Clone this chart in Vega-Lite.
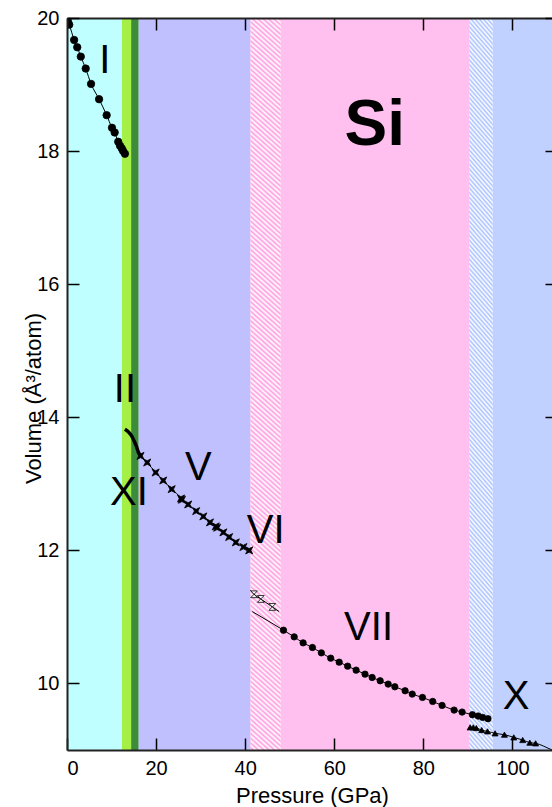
{
  "$schema": "https://vega.github.io/schema/vega-lite/v6.json",
  "width": 490,
  "height": 732,
  "autosize": {"type": "none"},
  "padding": {"left": 67, "top": 18, "right": 0, "bottom": 57},
  "background": "white",
  "config": {"view": {"stroke": null}, "font": "Liberation Sans"},
  "datasets": {
    "bands": [
      {"c": "I", "p0": 0, "p1": 12.35},
      {"c": "IIa", "p0": 12.35, "p1": 14.4},
      {"c": "IIb", "p0": 14.4, "p1": 16.1},
      {"c": "V", "p0": 16.1, "p1": 41.2},
      {"c": "VI", "p0": 41.2, "p1": 48.0},
      {"c": "VII", "p0": 48.0, "p1": 90.3},
      {"c": "VIIX", "p0": 90.3, "p1": 95.6},
      {"c": "X", "p0": 95.6, "p1": 110}
    ],
    "obs": [
      {"s": "I", "k": "pt", "P": 0.0, "V": 20.0},
      {"s": "I", "k": "pt", "P": 0.2, "V": 19.95},
      {"s": "I", "k": "pt", "P": 0.5, "V": 19.9},
      {"s": "I", "k": "pt", "P": 1.6, "V": 19.67},
      {"s": "I", "k": "pt", "P": 2.3, "V": 19.56},
      {"s": "I", "k": "pt", "P": 3.1, "V": 19.42},
      {"s": "I", "k": "pt", "P": 4.2, "V": 19.24},
      {"s": "I", "k": "pt", "P": 5.4, "V": 19.01},
      {"s": "I", "k": "pt", "P": 7.2, "V": 18.78},
      {"s": "I", "k": "pt", "P": 8.9, "V": 18.54},
      {"s": "I", "k": "pt", "P": 10.1, "V": 18.35},
      {"s": "I", "k": "pt", "P": 10.7, "V": 18.28},
      {"s": "I", "k": "pt", "P": 11.5, "V": 18.14},
      {"s": "I", "k": "pt", "P": 11.9, "V": 18.08},
      {"s": "I", "k": "pt", "P": 12.3, "V": 18.04},
      {"s": "I", "k": "pt", "P": 12.6, "V": 18.0},
      {"s": "I", "k": "pt", "P": 13.0, "V": 17.96},
      {"s": "II", "k": "ln", "P": 13.0, "V": 13.82},
      {"s": "II", "k": "ln", "P": 13.8, "V": 13.78},
      {"s": "II", "k": "ln", "P": 14.5, "V": 13.72},
      {"s": "II", "k": "ln", "P": 15.1, "V": 13.64},
      {"s": "II", "k": "ln", "P": 15.6, "V": 13.56},
      {"s": "II", "k": "ln", "P": 16.0, "V": 13.48},
      {"s": "II", "k": "ln", "P": 16.5, "V": 13.42},
      {"s": "V", "k": "pt", "P": 16.5, "V": 13.42},
      {"s": "V", "k": "pt", "P": 18.0, "V": 13.32},
      {"s": "V", "k": "pt", "P": 19.9, "V": 13.17},
      {"s": "V", "k": "pt", "P": 21.6, "V": 13.05},
      {"s": "V", "k": "pt", "P": 23.5, "V": 12.92},
      {"s": "V", "k": "pt", "P": 25.6, "V": 12.78},
      {"s": "V", "k": "pt", "P": 25.8, "V": 12.76},
      {"s": "V", "k": "pt", "P": 27.2, "V": 12.69},
      {"s": "V", "k": "pt", "P": 29.0, "V": 12.59},
      {"s": "V", "k": "pt", "P": 30.6, "V": 12.51},
      {"s": "V", "k": "pt", "P": 32.1, "V": 12.42},
      {"s": "V", "k": "pt", "P": 33.4, "V": 12.36},
      {"s": "V", "k": "pt", "P": 33.7, "V": 12.34},
      {"s": "V", "k": "pt", "P": 35.1, "V": 12.27},
      {"s": "V", "k": "pt", "P": 36.4, "V": 12.2},
      {"s": "V", "k": "pt", "P": 37.9, "V": 12.12},
      {"s": "V", "k": "pt", "P": 39.6, "V": 12.05},
      {"s": "V", "k": "pt", "P": 40.9, "V": 12.0},
      {"s": "VI", "k": "ln", "P": 41.2, "V": 11.4},
      {"s": "VI", "k": "pt", "P": 42.0, "V": 11.34},
      {"s": "VI", "k": "pt", "P": 43.5, "V": 11.27},
      {"s": "VI", "k": "pt", "P": 46.1, "V": 11.15},
      {"s": "VI", "k": "ln", "P": 47.6, "V": 11.08},
      {"s": "VII", "k": "ln", "P": 41.6, "V": 11.08},
      {"s": "VII", "k": "pt", "P": 48.6, "V": 10.8},
      {"s": "VII", "k": "pt", "P": 51.0, "V": 10.7},
      {"s": "VII", "k": "pt", "P": 53.0, "V": 10.61},
      {"s": "VII", "k": "pt", "P": 55.1, "V": 10.54},
      {"s": "VII", "k": "pt", "P": 57.1, "V": 10.46},
      {"s": "VII", "k": "pt", "P": 59.2, "V": 10.38},
      {"s": "VII", "k": "pt", "P": 61.1, "V": 10.32},
      {"s": "VII", "k": "pt", "P": 63.0, "V": 10.26},
      {"s": "VII", "k": "pt", "P": 64.9, "V": 10.2},
      {"s": "VII", "k": "pt", "P": 66.9, "V": 10.14},
      {"s": "VII", "k": "pt", "P": 68.5, "V": 10.09},
      {"s": "VII", "k": "pt", "P": 70.3, "V": 10.04},
      {"s": "VII", "k": "pt", "P": 72.1, "V": 9.99},
      {"s": "VII", "k": "pt", "P": 73.6, "V": 9.95},
      {"s": "VII", "k": "pt", "P": 75.9, "V": 9.89},
      {"s": "VII", "k": "pt", "P": 77.5, "V": 9.84},
      {"s": "VII", "k": "pt", "P": 79.8, "V": 9.79},
      {"s": "VII", "k": "pt", "P": 82.1, "V": 9.73},
      {"s": "VII", "k": "pt", "P": 84.2, "V": 9.67},
      {"s": "VII", "k": "pt", "P": 86.9, "V": 9.6},
      {"s": "VII", "k": "pt", "P": 88.7, "V": 9.57},
      {"s": "VII", "k": "pt", "P": 91.0, "V": 9.53},
      {"s": "VII", "k": "pt", "P": 92.3, "V": 9.51},
      {"s": "VII", "k": "pt", "P": 93.3, "V": 9.49},
      {"s": "VII", "k": "pt", "P": 94.5, "V": 9.47},
      {"s": "X", "k": "pt", "P": 90.5, "V": 9.34},
      {"s": "X", "k": "pt", "P": 91.2, "V": 9.34},
      {"s": "X", "k": "pt", "P": 91.9, "V": 9.33},
      {"s": "X", "k": "pt", "P": 93.1, "V": 9.3},
      {"s": "X", "k": "pt", "P": 94.4, "V": 9.28},
      {"s": "X", "k": "pt", "P": 96.1, "V": 9.25},
      {"s": "X", "k": "pt", "P": 98.2, "V": 9.23},
      {"s": "X", "k": "pt", "P": 100.3, "V": 9.19},
      {"s": "X", "k": "pt", "P": 102.3, "V": 9.15},
      {"s": "X", "k": "pt", "P": 103.9, "V": 9.11},
      {"s": "X", "k": "pt", "P": 105.2, "V": 9.1},
      {"s": "X", "k": "ln", "P": 108.9, "V": 9.0},
      {"s": "X", "k": "ln", "P": 110.0, "V": 8.97}
    ],
    "labels": [
      {"t": "I", "P": 8.5, "V": 19.17},
      {"t": "II", "P": 13.0, "V": 14.23},
      {"t": "XI", "P": 13.9, "V": 12.68},
      {"t": "V", "P": 29.5, "V": 13.06},
      {"t": "VI", "P": 44.6, "V": 12.11},
      {"t": "VII", "P": 67.7, "V": 10.66},
      {"t": "X", "P": 100.8, "V": 9.62}
    ],
    "title": [
      {"t": "Si", "P": 69.1, "V": 18.09}
    ]
  },
  "layer": [
    {
      "data": {"name": "bands"},
      "mark": {"type": "rect"},
      "encoding": {
        "x": {
          "field": "p0", "type": "quantitative",
          "scale": {"domain": [0, 110], "nice": false, "zero": false},
          "axis": {
            "orient": "bottom", "values": [0, 20, 40, 60, 80, 100], "grid": false, "zindex": 1,
            "tickSize": -12, "tickColor": "black", "tickWidth": 1.5,
            "domainColor": "#222222", "domainWidth": 2,
            "labelFont": "Liberation Sans", "labelFontSize": 20, "labelColor": "black", "labelPadding": 20,
            "title": "Pressure (GPa)", "titleFont": "Liberation Sans", "titleFontSize": 22,
            "titleFontWeight": "normal", "titleColor": "black",
            "titleBaseline": "alphabetic", "titleY": 52
          }
        },
        "x2": {"field": "p1"},
        "y": {
          "datum": 9, "type": "quantitative",
          "scale": {"domain": [9, 20], "nice": false, "zero": false},
          "axis": {
            "orient": "left", "values": [10, 12, 14, 16, 18, 20], "grid": false, "zindex": 1,
            "tickSize": -12, "tickColor": "black", "tickWidth": 1.5,
            "domainColor": "#222222", "domainWidth": 2,
            "labelFont": "Liberation Sans", "labelFontSize": 20, "labelColor": "black", "labelPadding": 20,
            "title": "Volume (Å³/atom)", "titleFont": "Liberation Sans", "titleFontSize": 22,
            "titleFontWeight": "normal", "titleColor": "black",
            "titleBaseline": "alphabetic", "titleX": -27, "titleY": 380
          }
        },
        "y2": {"datum": 20},
        "color": {
          "field": "c", "type": "nominal",
          "scale": {
            "domain": ["I", "IIa", "IIb", "V", "VI", "VII", "VIIX", "X"],
            "range": ["#bfffff", "#a4f046", "#3c8c3c", "#c0c0ff", "#ff9de0", "#ffc0f0", "#a9c1ff", "#c0d0ff"]
          },
          "legend": null
        }
      }
    },
    {
      "data": {"name": "bands"},
      "transform": [{"filter": "datum.c == 'VI' || datum.c == 'VIIX'"}],
      "mark": {
        "type": "rect",
        "fill": {
          "gradient": "linear", "x1": 0, "y1": 1, "x2": 0.0382, "y2": -0.0355,
          "stops": [
            {"offset": 0, "color": "#ffffff"}, {"offset": 0.003125, "color": "rgba(255,255,255,0)"}, {"offset": 0.00625, "color": "#ffffff"}, {"offset": 0.009375, "color": "rgba(255,255,255,0)"}, {"offset": 0.0125, "color": "#ffffff"}, {"offset": 0.015625, "color": "rgba(255,255,255,0)"}, {"offset": 0.01875, "color": "#ffffff"}, {"offset": 0.021875, "color": "rgba(255,255,255,0)"},
            {"offset": 0.025, "color": "#ffffff"}, {"offset": 0.028125, "color": "rgba(255,255,255,0)"}, {"offset": 0.03125, "color": "#ffffff"}, {"offset": 0.034375, "color": "rgba(255,255,255,0)"}, {"offset": 0.0375, "color": "#ffffff"}, {"offset": 0.040625, "color": "rgba(255,255,255,0)"}, {"offset": 0.04375, "color": "#ffffff"}, {"offset": 0.046875, "color": "rgba(255,255,255,0)"},
            {"offset": 0.05, "color": "#ffffff"}, {"offset": 0.053125, "color": "rgba(255,255,255,0)"}, {"offset": 0.05625, "color": "#ffffff"}, {"offset": 0.059375, "color": "rgba(255,255,255,0)"}, {"offset": 0.0625, "color": "#ffffff"}, {"offset": 0.065625, "color": "rgba(255,255,255,0)"}, {"offset": 0.06875, "color": "#ffffff"}, {"offset": 0.071875, "color": "rgba(255,255,255,0)"},
            {"offset": 0.075, "color": "#ffffff"}, {"offset": 0.078125, "color": "rgba(255,255,255,0)"}, {"offset": 0.08125, "color": "#ffffff"}, {"offset": 0.084375, "color": "rgba(255,255,255,0)"}, {"offset": 0.0875, "color": "#ffffff"}, {"offset": 0.090625, "color": "rgba(255,255,255,0)"}, {"offset": 0.09375, "color": "#ffffff"}, {"offset": 0.096875, "color": "rgba(255,255,255,0)"},
            {"offset": 0.1, "color": "#ffffff"}, {"offset": 0.103125, "color": "rgba(255,255,255,0)"}, {"offset": 0.10625, "color": "#ffffff"}, {"offset": 0.109375, "color": "rgba(255,255,255,0)"}, {"offset": 0.1125, "color": "#ffffff"}, {"offset": 0.115625, "color": "rgba(255,255,255,0)"}, {"offset": 0.11875, "color": "#ffffff"}, {"offset": 0.121875, "color": "rgba(255,255,255,0)"},
            {"offset": 0.125, "color": "#ffffff"}, {"offset": 0.128125, "color": "rgba(255,255,255,0)"}, {"offset": 0.13125, "color": "#ffffff"}, {"offset": 0.134375, "color": "rgba(255,255,255,0)"}, {"offset": 0.1375, "color": "#ffffff"}, {"offset": 0.140625, "color": "rgba(255,255,255,0)"}, {"offset": 0.14375, "color": "#ffffff"}, {"offset": 0.146875, "color": "rgba(255,255,255,0)"},
            {"offset": 0.15, "color": "#ffffff"}, {"offset": 0.153125, "color": "rgba(255,255,255,0)"}, {"offset": 0.15625, "color": "#ffffff"}, {"offset": 0.159375, "color": "rgba(255,255,255,0)"}, {"offset": 0.1625, "color": "#ffffff"}, {"offset": 0.165625, "color": "rgba(255,255,255,0)"}, {"offset": 0.16875, "color": "#ffffff"}, {"offset": 0.171875, "color": "rgba(255,255,255,0)"},
            {"offset": 0.175, "color": "#ffffff"}, {"offset": 0.178125, "color": "rgba(255,255,255,0)"}, {"offset": 0.18125, "color": "#ffffff"}, {"offset": 0.184375, "color": "rgba(255,255,255,0)"}, {"offset": 0.1875, "color": "#ffffff"}, {"offset": 0.190625, "color": "rgba(255,255,255,0)"}, {"offset": 0.19375, "color": "#ffffff"}, {"offset": 0.196875, "color": "rgba(255,255,255,0)"},
            {"offset": 0.2, "color": "#ffffff"}, {"offset": 0.203125, "color": "rgba(255,255,255,0)"}, {"offset": 0.20625, "color": "#ffffff"}, {"offset": 0.209375, "color": "rgba(255,255,255,0)"}, {"offset": 0.2125, "color": "#ffffff"}, {"offset": 0.215625, "color": "rgba(255,255,255,0)"}, {"offset": 0.21875, "color": "#ffffff"}, {"offset": 0.221875, "color": "rgba(255,255,255,0)"},
            {"offset": 0.225, "color": "#ffffff"}, {"offset": 0.228125, "color": "rgba(255,255,255,0)"}, {"offset": 0.23125, "color": "#ffffff"}, {"offset": 0.234375, "color": "rgba(255,255,255,0)"}, {"offset": 0.2375, "color": "#ffffff"}, {"offset": 0.240625, "color": "rgba(255,255,255,0)"}, {"offset": 0.24375, "color": "#ffffff"}, {"offset": 0.246875, "color": "rgba(255,255,255,0)"},
            {"offset": 0.25, "color": "#ffffff"}, {"offset": 0.253125, "color": "rgba(255,255,255,0)"}, {"offset": 0.25625, "color": "#ffffff"}, {"offset": 0.259375, "color": "rgba(255,255,255,0)"}, {"offset": 0.2625, "color": "#ffffff"}, {"offset": 0.265625, "color": "rgba(255,255,255,0)"}, {"offset": 0.26875, "color": "#ffffff"}, {"offset": 0.271875, "color": "rgba(255,255,255,0)"},
            {"offset": 0.275, "color": "#ffffff"}, {"offset": 0.278125, "color": "rgba(255,255,255,0)"}, {"offset": 0.28125, "color": "#ffffff"}, {"offset": 0.284375, "color": "rgba(255,255,255,0)"}, {"offset": 0.2875, "color": "#ffffff"}, {"offset": 0.290625, "color": "rgba(255,255,255,0)"}, {"offset": 0.29375, "color": "#ffffff"}, {"offset": 0.296875, "color": "rgba(255,255,255,0)"},
            {"offset": 0.3, "color": "#ffffff"}, {"offset": 0.303125, "color": "rgba(255,255,255,0)"}, {"offset": 0.30625, "color": "#ffffff"}, {"offset": 0.309375, "color": "rgba(255,255,255,0)"}, {"offset": 0.3125, "color": "#ffffff"}, {"offset": 0.315625, "color": "rgba(255,255,255,0)"}, {"offset": 0.31875, "color": "#ffffff"}, {"offset": 0.321875, "color": "rgba(255,255,255,0)"},
            {"offset": 0.325, "color": "#ffffff"}, {"offset": 0.328125, "color": "rgba(255,255,255,0)"}, {"offset": 0.33125, "color": "#ffffff"}, {"offset": 0.334375, "color": "rgba(255,255,255,0)"}, {"offset": 0.3375, "color": "#ffffff"}, {"offset": 0.340625, "color": "rgba(255,255,255,0)"}, {"offset": 0.34375, "color": "#ffffff"}, {"offset": 0.346875, "color": "rgba(255,255,255,0)"},
            {"offset": 0.35, "color": "#ffffff"}, {"offset": 0.353125, "color": "rgba(255,255,255,0)"}, {"offset": 0.35625, "color": "#ffffff"}, {"offset": 0.359375, "color": "rgba(255,255,255,0)"}, {"offset": 0.3625, "color": "#ffffff"}, {"offset": 0.365625, "color": "rgba(255,255,255,0)"}, {"offset": 0.36875, "color": "#ffffff"}, {"offset": 0.371875, "color": "rgba(255,255,255,0)"},
            {"offset": 0.375, "color": "#ffffff"}, {"offset": 0.378125, "color": "rgba(255,255,255,0)"}, {"offset": 0.38125, "color": "#ffffff"}, {"offset": 0.384375, "color": "rgba(255,255,255,0)"}, {"offset": 0.3875, "color": "#ffffff"}, {"offset": 0.390625, "color": "rgba(255,255,255,0)"}, {"offset": 0.39375, "color": "#ffffff"}, {"offset": 0.396875, "color": "rgba(255,255,255,0)"},
            {"offset": 0.4, "color": "#ffffff"}, {"offset": 0.403125, "color": "rgba(255,255,255,0)"}, {"offset": 0.40625, "color": "#ffffff"}, {"offset": 0.409375, "color": "rgba(255,255,255,0)"}, {"offset": 0.4125, "color": "#ffffff"}, {"offset": 0.415625, "color": "rgba(255,255,255,0)"}, {"offset": 0.41875, "color": "#ffffff"}, {"offset": 0.421875, "color": "rgba(255,255,255,0)"},
            {"offset": 0.425, "color": "#ffffff"}, {"offset": 0.428125, "color": "rgba(255,255,255,0)"}, {"offset": 0.43125, "color": "#ffffff"}, {"offset": 0.434375, "color": "rgba(255,255,255,0)"}, {"offset": 0.4375, "color": "#ffffff"}, {"offset": 0.440625, "color": "rgba(255,255,255,0)"}, {"offset": 0.44375, "color": "#ffffff"}, {"offset": 0.446875, "color": "rgba(255,255,255,0)"},
            {"offset": 0.45, "color": "#ffffff"}, {"offset": 0.453125, "color": "rgba(255,255,255,0)"}, {"offset": 0.45625, "color": "#ffffff"}, {"offset": 0.459375, "color": "rgba(255,255,255,0)"}, {"offset": 0.4625, "color": "#ffffff"}, {"offset": 0.465625, "color": "rgba(255,255,255,0)"}, {"offset": 0.46875, "color": "#ffffff"}, {"offset": 0.471875, "color": "rgba(255,255,255,0)"},
            {"offset": 0.475, "color": "#ffffff"}, {"offset": 0.478125, "color": "rgba(255,255,255,0)"}, {"offset": 0.48125, "color": "#ffffff"}, {"offset": 0.484375, "color": "rgba(255,255,255,0)"}, {"offset": 0.4875, "color": "#ffffff"}, {"offset": 0.490625, "color": "rgba(255,255,255,0)"}, {"offset": 0.49375, "color": "#ffffff"}, {"offset": 0.496875, "color": "rgba(255,255,255,0)"},
            {"offset": 0.5, "color": "#ffffff"}, {"offset": 0.503125, "color": "rgba(255,255,255,0)"}, {"offset": 0.50625, "color": "#ffffff"}, {"offset": 0.509375, "color": "rgba(255,255,255,0)"}, {"offset": 0.5125, "color": "#ffffff"}, {"offset": 0.515625, "color": "rgba(255,255,255,0)"}, {"offset": 0.51875, "color": "#ffffff"}, {"offset": 0.521875, "color": "rgba(255,255,255,0)"},
            {"offset": 0.525, "color": "#ffffff"}, {"offset": 0.528125, "color": "rgba(255,255,255,0)"}, {"offset": 0.53125, "color": "#ffffff"}, {"offset": 0.534375, "color": "rgba(255,255,255,0)"}, {"offset": 0.5375, "color": "#ffffff"}, {"offset": 0.540625, "color": "rgba(255,255,255,0)"}, {"offset": 0.54375, "color": "#ffffff"}, {"offset": 0.546875, "color": "rgba(255,255,255,0)"},
            {"offset": 0.55, "color": "#ffffff"}, {"offset": 0.553125, "color": "rgba(255,255,255,0)"}, {"offset": 0.55625, "color": "#ffffff"}, {"offset": 0.559375, "color": "rgba(255,255,255,0)"}, {"offset": 0.5625, "color": "#ffffff"}, {"offset": 0.565625, "color": "rgba(255,255,255,0)"}, {"offset": 0.56875, "color": "#ffffff"}, {"offset": 0.571875, "color": "rgba(255,255,255,0)"},
            {"offset": 0.575, "color": "#ffffff"}, {"offset": 0.578125, "color": "rgba(255,255,255,0)"}, {"offset": 0.58125, "color": "#ffffff"}, {"offset": 0.584375, "color": "rgba(255,255,255,0)"}, {"offset": 0.5875, "color": "#ffffff"}, {"offset": 0.590625, "color": "rgba(255,255,255,0)"}, {"offset": 0.59375, "color": "#ffffff"}, {"offset": 0.596875, "color": "rgba(255,255,255,0)"},
            {"offset": 0.6, "color": "#ffffff"}, {"offset": 0.603125, "color": "rgba(255,255,255,0)"}, {"offset": 0.60625, "color": "#ffffff"}, {"offset": 0.609375, "color": "rgba(255,255,255,0)"}, {"offset": 0.6125, "color": "#ffffff"}, {"offset": 0.615625, "color": "rgba(255,255,255,0)"}, {"offset": 0.61875, "color": "#ffffff"}, {"offset": 0.621875, "color": "rgba(255,255,255,0)"},
            {"offset": 0.625, "color": "#ffffff"}, {"offset": 0.628125, "color": "rgba(255,255,255,0)"}, {"offset": 0.63125, "color": "#ffffff"}, {"offset": 0.634375, "color": "rgba(255,255,255,0)"}, {"offset": 0.6375, "color": "#ffffff"}, {"offset": 0.640625, "color": "rgba(255,255,255,0)"}, {"offset": 0.64375, "color": "#ffffff"}, {"offset": 0.646875, "color": "rgba(255,255,255,0)"},
            {"offset": 0.65, "color": "#ffffff"}, {"offset": 0.653125, "color": "rgba(255,255,255,0)"}, {"offset": 0.65625, "color": "#ffffff"}, {"offset": 0.659375, "color": "rgba(255,255,255,0)"}, {"offset": 0.6625, "color": "#ffffff"}, {"offset": 0.665625, "color": "rgba(255,255,255,0)"}, {"offset": 0.66875, "color": "#ffffff"}, {"offset": 0.671875, "color": "rgba(255,255,255,0)"},
            {"offset": 0.675, "color": "#ffffff"}, {"offset": 0.678125, "color": "rgba(255,255,255,0)"}, {"offset": 0.68125, "color": "#ffffff"}, {"offset": 0.684375, "color": "rgba(255,255,255,0)"}, {"offset": 0.6875, "color": "#ffffff"}, {"offset": 0.690625, "color": "rgba(255,255,255,0)"}, {"offset": 0.69375, "color": "#ffffff"}, {"offset": 0.696875, "color": "rgba(255,255,255,0)"},
            {"offset": 0.7, "color": "#ffffff"}, {"offset": 0.703125, "color": "rgba(255,255,255,0)"}, {"offset": 0.70625, "color": "#ffffff"}, {"offset": 0.709375, "color": "rgba(255,255,255,0)"}, {"offset": 0.7125, "color": "#ffffff"}, {"offset": 0.715625, "color": "rgba(255,255,255,0)"}, {"offset": 0.71875, "color": "#ffffff"}, {"offset": 0.721875, "color": "rgba(255,255,255,0)"},
            {"offset": 0.725, "color": "#ffffff"}, {"offset": 0.728125, "color": "rgba(255,255,255,0)"}, {"offset": 0.73125, "color": "#ffffff"}, {"offset": 0.734375, "color": "rgba(255,255,255,0)"}, {"offset": 0.7375, "color": "#ffffff"}, {"offset": 0.740625, "color": "rgba(255,255,255,0)"}, {"offset": 0.74375, "color": "#ffffff"}, {"offset": 0.746875, "color": "rgba(255,255,255,0)"},
            {"offset": 0.75, "color": "#ffffff"}, {"offset": 0.753125, "color": "rgba(255,255,255,0)"}, {"offset": 0.75625, "color": "#ffffff"}, {"offset": 0.759375, "color": "rgba(255,255,255,0)"}, {"offset": 0.7625, "color": "#ffffff"}, {"offset": 0.765625, "color": "rgba(255,255,255,0)"}, {"offset": 0.76875, "color": "#ffffff"}, {"offset": 0.771875, "color": "rgba(255,255,255,0)"},
            {"offset": 0.775, "color": "#ffffff"}, {"offset": 0.778125, "color": "rgba(255,255,255,0)"}, {"offset": 0.78125, "color": "#ffffff"}, {"offset": 0.784375, "color": "rgba(255,255,255,0)"}, {"offset": 0.7875, "color": "#ffffff"}, {"offset": 0.790625, "color": "rgba(255,255,255,0)"}, {"offset": 0.79375, "color": "#ffffff"}, {"offset": 0.796875, "color": "rgba(255,255,255,0)"},
            {"offset": 0.8, "color": "#ffffff"}, {"offset": 0.803125, "color": "rgba(255,255,255,0)"}, {"offset": 0.80625, "color": "#ffffff"}, {"offset": 0.809375, "color": "rgba(255,255,255,0)"}, {"offset": 0.8125, "color": "#ffffff"}, {"offset": 0.815625, "color": "rgba(255,255,255,0)"}, {"offset": 0.81875, "color": "#ffffff"}, {"offset": 0.821875, "color": "rgba(255,255,255,0)"},
            {"offset": 0.825, "color": "#ffffff"}, {"offset": 0.828125, "color": "rgba(255,255,255,0)"}, {"offset": 0.83125, "color": "#ffffff"}, {"offset": 0.834375, "color": "rgba(255,255,255,0)"}, {"offset": 0.8375, "color": "#ffffff"}, {"offset": 0.840625, "color": "rgba(255,255,255,0)"}, {"offset": 0.84375, "color": "#ffffff"}, {"offset": 0.846875, "color": "rgba(255,255,255,0)"},
            {"offset": 0.85, "color": "#ffffff"}, {"offset": 0.853125, "color": "rgba(255,255,255,0)"}, {"offset": 0.85625, "color": "#ffffff"}, {"offset": 0.859375, "color": "rgba(255,255,255,0)"}, {"offset": 0.8625, "color": "#ffffff"}, {"offset": 0.865625, "color": "rgba(255,255,255,0)"}, {"offset": 0.86875, "color": "#ffffff"}, {"offset": 0.871875, "color": "rgba(255,255,255,0)"},
            {"offset": 0.875, "color": "#ffffff"}, {"offset": 0.878125, "color": "rgba(255,255,255,0)"}, {"offset": 0.88125, "color": "#ffffff"}, {"offset": 0.884375, "color": "rgba(255,255,255,0)"}, {"offset": 0.8875, "color": "#ffffff"}, {"offset": 0.890625, "color": "rgba(255,255,255,0)"}, {"offset": 0.89375, "color": "#ffffff"}, {"offset": 0.896875, "color": "rgba(255,255,255,0)"},
            {"offset": 0.9, "color": "#ffffff"}, {"offset": 0.903125, "color": "rgba(255,255,255,0)"}, {"offset": 0.90625, "color": "#ffffff"}, {"offset": 0.909375, "color": "rgba(255,255,255,0)"}, {"offset": 0.9125, "color": "#ffffff"}, {"offset": 0.915625, "color": "rgba(255,255,255,0)"}, {"offset": 0.91875, "color": "#ffffff"}, {"offset": 0.921875, "color": "rgba(255,255,255,0)"},
            {"offset": 0.925, "color": "#ffffff"}, {"offset": 0.928125, "color": "rgba(255,255,255,0)"}, {"offset": 0.93125, "color": "#ffffff"}, {"offset": 0.934375, "color": "rgba(255,255,255,0)"}, {"offset": 0.9375, "color": "#ffffff"}, {"offset": 0.940625, "color": "rgba(255,255,255,0)"}, {"offset": 0.94375, "color": "#ffffff"}, {"offset": 0.946875, "color": "rgba(255,255,255,0)"},
            {"offset": 0.95, "color": "#ffffff"}, {"offset": 0.953125, "color": "rgba(255,255,255,0)"}, {"offset": 0.95625, "color": "#ffffff"}, {"offset": 0.959375, "color": "rgba(255,255,255,0)"}, {"offset": 0.9625, "color": "#ffffff"}, {"offset": 0.965625, "color": "rgba(255,255,255,0)"}, {"offset": 0.96875, "color": "#ffffff"}, {"offset": 0.971875, "color": "rgba(255,255,255,0)"},
            {"offset": 0.975, "color": "#ffffff"}, {"offset": 0.978125, "color": "rgba(255,255,255,0)"}, {"offset": 0.98125, "color": "#ffffff"}, {"offset": 0.984375, "color": "rgba(255,255,255,0)"}, {"offset": 0.9875, "color": "#ffffff"}, {"offset": 0.990625, "color": "rgba(255,255,255,0)"}, {"offset": 0.99375, "color": "#ffffff"}, {"offset": 0.996875, "color": "rgba(255,255,255,0)"},
            {"offset": 1, "color": "#ffffff"}
          ]
        }
      },
      "encoding": {
        "x": {"field": "p0", "type": "quantitative", "axis": null},
        "x2": {"field": "p1"},
        "y": {"datum": 9, "type": "quantitative", "axis": null},
        "y2": {"datum": 20}
      }
    },
    {
      "data": {"name": "obs"},
      "transform": [{"filter": "datum.s != 'II'"}],
      "mark": {"type": "line", "color": "black", "strokeWidth": 1, "interpolate": "monotone", "clip": true},
      "encoding": {
        "x": {
          "field": "P", "type": "quantitative",
          "axis": {
            "orient": "top", "values": [20, 40, 60, 80, 100], "grid": false, "labels": false, "title": null, "zindex": 1,
            "tickSize": -12, "tickColor": "black", "tickWidth": 1.5,
            "domainColor": "#222222", "domainWidth": 2
          }
        },
        "y": {
          "field": "V", "type": "quantitative",
          "axis": {
            "orient": "right", "values": [10, 12, 14, 16, 18, 20], "grid": false, "labels": false, "title": null, "zindex": 1,
            "tickSize": -12, "tickColor": "black", "tickWidth": 1.5,
            "domainColor": "#222222", "domainWidth": 2
          }
        },
        "detail": {"field": "s", "type": "nominal"},
        "order": {"field": "P", "type": "quantitative"}
      }
    },
    {
      "data": {"name": "obs"},
      "transform": [{"filter": "datum.s == 'II'"}],
      "mark": {"type": "line", "color": "black", "strokeWidth": 3.5, "interpolate": "monotone", "clip": true},
      "encoding": {
        "x": {"field": "P", "type": "quantitative", "axis": null},
        "y": {"field": "V", "type": "quantitative", "axis": null},
        "order": {"field": "P", "type": "quantitative"}
      }
    },
    {
      "data": {"name": "obs"},
      "transform": [{"filter": "datum.k == 'pt'"}],
      "mark": {"type": "point", "filled": true, "stroke": "black", "strokeWidth": 0.8, "opacity": 1, "clip": true},
      "encoding": {
        "x": {"field": "P", "type": "quantitative", "axis": null},
        "y": {"field": "V", "type": "quantitative", "axis": null},
        "shape": {
          "field": "s", "type": "nominal",
          "scale": {
            "domain": ["I", "V", "VI", "VII", "X"],
            "range": ["circle", "M-1,-1L0,-0.5L1,-1L0.5,0L1,1L0,0.5L-1,1L-0.5,0Z", "M-1,-1L1,-1L-1,1L1,1Z", "circle", "triangle-up"]
          },
          "legend": null
        },
        "size": {
          "field": "s", "type": "nominal",
          "scale": {"domain": ["I", "V", "VI", "VII", "X"], "range": [55, 36, 40, 48, 45]},
          "legend": null
        },
        "fill": {
          "field": "s", "type": "nominal",
          "scale": {"domain": ["I", "V", "VI", "VII", "X"], "range": ["black", "black", "white", "black", "black"]},
          "legend": null
        }
      }
    },
    {
      "data": {"name": "labels"},
      "mark": {"type": "text", "font": "Liberation Sans", "fontSize": 40, "align": "center", "baseline": "alphabetic", "color": "black"},
      "encoding": {
        "x": {"field": "P", "type": "quantitative", "axis": null},
        "y": {"field": "V", "type": "quantitative", "axis": null},
        "text": {"field": "t"}
      }
    },
    {
      "data": {"name": "title"},
      "mark": {"type": "text", "font": "Liberation Sans", "fontSize": 64, "fontWeight": "bold", "align": "center", "baseline": "alphabetic", "color": "black"},
      "encoding": {
        "x": {"field": "P", "type": "quantitative", "axis": null},
        "y": {"field": "V", "type": "quantitative", "axis": null},
        "text": {"field": "t"}
      }
    }
  ],
  "resolve": {"axis": {"x": "independent", "y": "independent"}}
}
